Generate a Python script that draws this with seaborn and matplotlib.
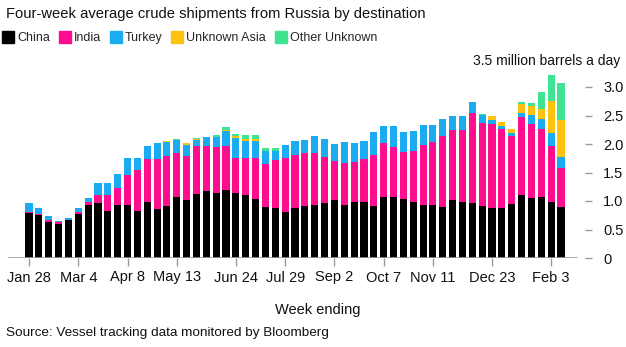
import matplotlib
matplotlib.use("Agg")
import matplotlib.pyplot as plt
from matplotlib.lines import Line2D
import seaborn as sns
import numpy as np
import pandas as pd

weeks = pd.date_range("2022-01-28", periods=55, freq="7D").strftime("%Y-%m-%d").tolist()

china = [0.79, 0.76, 0.64, 0.60, 0.67, 0.77, 0.93, 0.96, 0.82, 0.93,
         0.93, 0.82, 0.98, 0.86, 0.91, 1.07, 1.02, 1.12, 1.18, 1.14,
         1.19, 1.14, 1.10, 1.03, 0.89, 0.88, 0.81, 0.88, 0.91, 0.93,
         0.96, 1.02, 0.93, 0.98, 0.98, 0.91, 1.07, 1.07, 1.04, 0.98,
         0.93, 0.93, 0.89, 1.02, 0.98, 0.96, 0.91, 0.88, 0.88, 0.95,
         1.11, 1.05, 1.07, 0.98, 0.89]
india = [0.02, 0.02, 0.03, 0.04, 0.00, 0.04, 0.05, 0.14, 0.28, 0.30,
         0.53, 0.72, 0.76, 0.88, 0.88, 0.77, 0.77, 0.84, 0.78, 0.80,
         0.77, 0.62, 0.66, 0.73, 0.76, 0.84, 0.94, 0.93, 0.94, 0.91,
         0.81, 0.68, 0.74, 0.70, 0.76, 0.90, 0.95, 0.88, 0.82, 0.90,
         1.05, 1.11, 1.25, 1.23, 1.27, 1.58, 1.46, 1.47, 1.38, 1.19,
         1.36, 1.30, 1.19, 0.98, 0.69]
turkey = [0.15, 0.09, 0.07, 0.01, 0.03, 0.07, 0.07, 0.22, 0.22, 0.24,
          0.29, 0.21, 0.22, 0.28, 0.25, 0.23, 0.19, 0.11, 0.16, 0.18,
          0.26, 0.35, 0.29, 0.29, 0.23, 0.16, 0.23, 0.24, 0.22, 0.30,
          0.32, 0.30, 0.37, 0.34, 0.31, 0.40, 0.30, 0.37, 0.35, 0.35,
          0.35, 0.29, 0.30, 0.24, 0.24, 0.20, 0.14, 0.07, 0.06, 0.05,
          0.07, 0.16, 0.18, 0.23, 0.19]
unknown_asia = [0, 0, 0, 0, 0, 0, 0, 0, 0, 0,
                0, 0, 0, 0, 0.01, 0, 0.03, 0.01, 0, 0,
                0.03, 0.03, 0.03, 0.03, 0, 0, 0, 0, 0, 0,
                0, 0, 0, 0, 0, 0, 0, 0, 0, 0,
                0, 0, 0, 0, 0, 0, 0, 0.07, 0.07, 0.07,
                0.16, 0.16, 0.18, 0.56, 0.65]
other_unknown = [0, 0, 0, 0, 0, 0, 0, 0, 0, 0,
                 0, 0, 0, 0, 0.01, 0.02, 0.01, 0.02, 0, 0.03,
                 0.04, 0.04, 0.07, 0.07, 0.05, 0.05, 0, 0, 0, 0,
                 0, 0, 0, 0, 0, 0, 0, 0, 0, 0,
                 0, 0, 0, 0, 0, 0, 0.02, 0, 0, 0,
                 0.04, 0.05, 0.29, 0.46, 0.65]

series_names = ["China", "India", "Turkey", "Unknown Asia", "Other Unknown"]
series_colors = ["#000000", "#ff0d8f", "#1aabf0", "#ffc20e", "#3fe493"]

tick_weeks = ["2022-01-28", "2022-03-04", "2022-04-08", "2022-05-13", "2022-06-24",
              "2022-07-29", "2022-09-02", "2022-10-07", "2022-11-11", "2022-12-23",
              "2023-02-03"]
tick_labels = ["Jan 28", "Mar 4", "Apr 8", "May 13", "Jun 24", "Jul 29",
               "Sep 2", "Oct 7", "Nov 11", "Dec 23", "Feb 3"]
y_ticks = [0, 0.5, 1.0, 1.5, 2.0, 2.5, 3.0]
y_tick_labels = ["0", "0.5", "1.0", "1.5", "2.0", "2.5", "3.0"]

sns.set_theme(style="white")
plt.rcParams["font.family"] = ["Liberation Sans Narrow", "Liberation Sans", "DejaVu Sans"]

df = pd.DataFrame({"week": weeks, "China": china, "India": india, "Turkey": turkey,
                   "Unknown Asia": unknown_asia, "Other Unknown": other_unknown})
cum = df[series_names].cumsum(axis=1)

fig = plt.figure(figsize=(6.26, 3.47), dpi=100)
W, H = 626, 347
left_px, right_px, top_px, bot_px = 8, 585, 258 - 3.5 * 57, 258
ax = fig.add_axes([left_px / W, 1 - bot_px / H, (right_px - left_px) / W, (bot_px - top_px) / H])

for name, color in reversed(list(zip(series_names, series_colors))):
    sns.barplot(x=df["week"], y=cum[name], order=weeks, color=color, width=0.72,
                linewidth=0, errorbar=None, ax=ax, saturation=1)

px_per_bar = 9.85
x_left = 0 - (29 - left_px) / px_per_bar
x_right = 54 + (right_px - 561) / px_per_bar
ax.set_xlim(x_left, x_right)
ax.set_ylim(0, 3.5)
for s in ax.spines.values():
    s.set_visible(False)
base_end = (577 - left_px) / (right_px - left_px)
ax.axhline(0, xmin=0, xmax=base_end, color="#9a9a9a", lw=1.2, zorder=5)

ax.set_xticks([weeks.index(w) for w in tick_weeks])
ax.set_xticklabels(tick_labels, fontsize=10.5, color="#111111")
ax.tick_params(axis="x", which="both", bottom=True, length=6, width=1, color="#9a9a9a", pad=3)
ax.yaxis.tick_right()
ax.set_yticks(y_ticks)
ax.set_yticklabels(y_tick_labels, fontsize=10.5, color="#111111")
ax.tick_params(axis="y", right=True, length=5, width=1, color="#9a9a9a", pad=8)
ax.set_xlabel("")
ax.set_ylabel("")
ax.grid(False)

fig.text(6 / W, 1 - 14 / H, "Four-week average crude shipments from Russia by destination",
         fontsize=10.6, va="center", ha="left", color="#111111")
handles = [Line2D([], [], marker="s", linestyle="", markersize=8, color=c) for c in series_colors]
fig.legend(handles, series_names, loc="center left", bbox_to_anchor=(3 / W, 1 - 38 / H),
           ncol=5, frameon=False, fontsize=9.0, handlelength=0.8, handletextpad=0.35,
           columnspacing=0.75, borderpad=0, borderaxespad=0)
fig.text(620 / W, 1 - 61 / H, "3.5 million barrels a day", fontsize=10, ha="right",
         va="center", color="#111111")
fig.text(318 / W, 1 - 310 / H, "Week ending", fontsize=10.5, ha="center", va="center",
         color="#111111")
fig.text(6 / W, 1 - 333 / H, "Source: Vessel tracking data monitored by Bloomberg",
         fontsize=9.7, ha="left", va="center", color="#111111")

fig.savefig("out.png", dpi=100)
